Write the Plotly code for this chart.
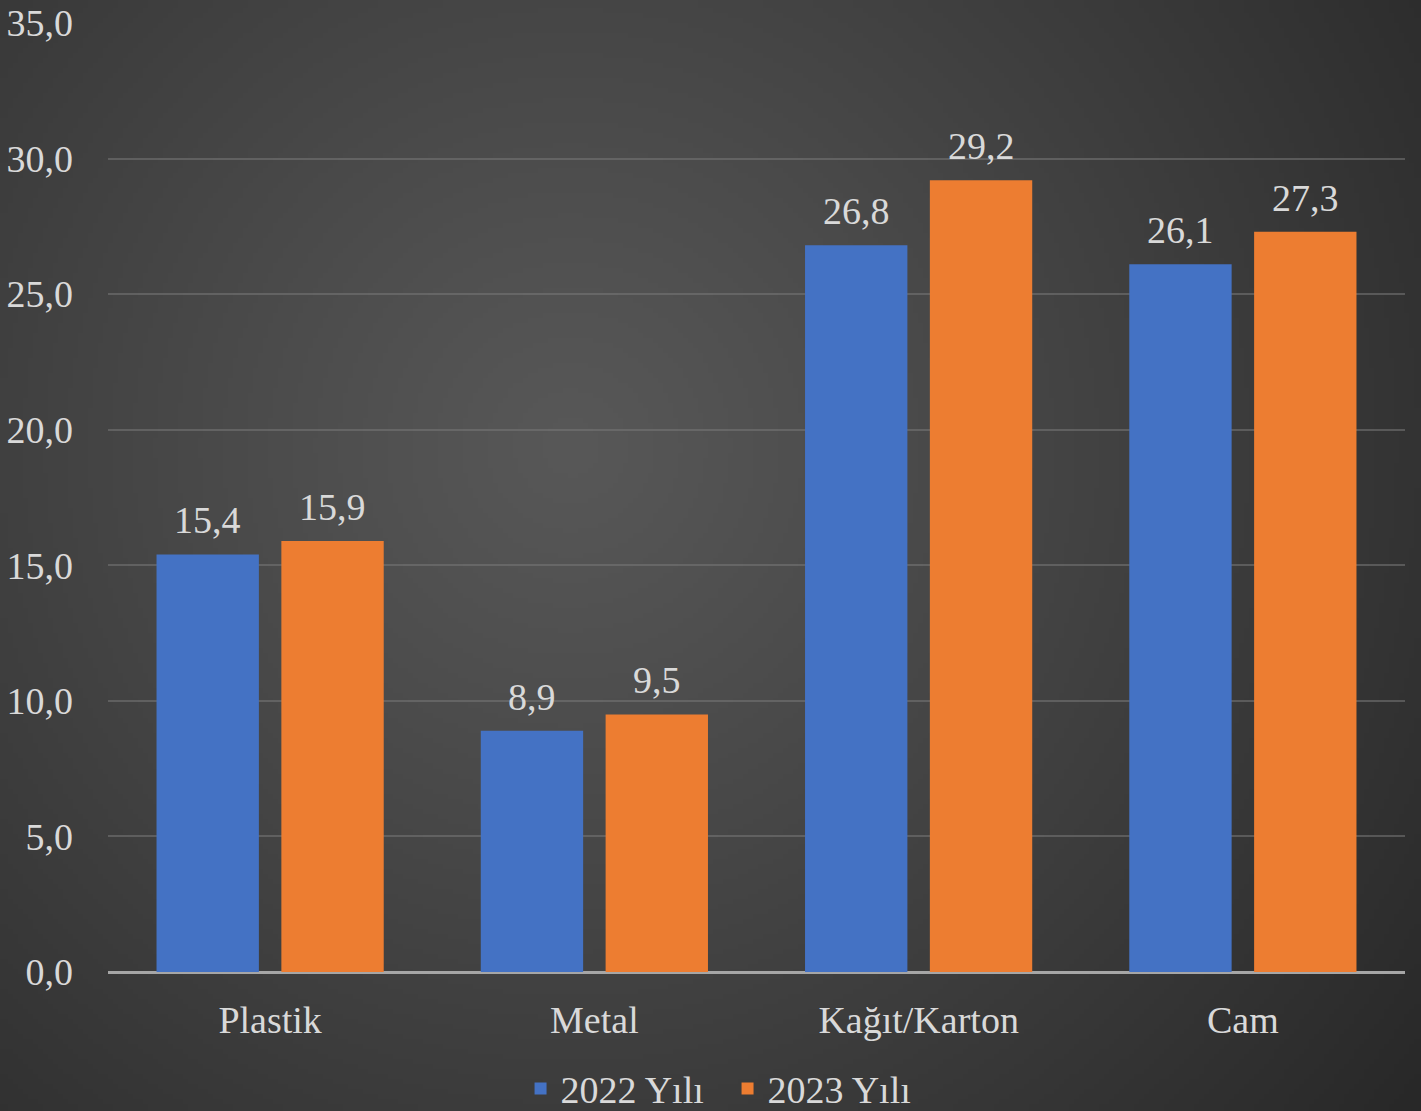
import base64, struct, zlib
import numpy as np
import plotly.graph_objects as go

categories = ["Plastik", "Metal", "Kağıt/Karton", "Cam"]
values_2022 = [15.4, 8.9, 26.8, 26.1]
values_2023 = [15.9, 9.5, 29.2, 27.3]
series_names = ["2022 Yılı", "2023 Yılı"]
y_ticks = [0, 5, 10, 15, 20, 25, 30, 35]
y_tick_labels = ["0,0", "5,0", "10,0", "15,0", "20,0", "25,0", "30,0", "35,0"]

W, H = 1421, 1111
ML, MR, MT, MB = 108, 16, 23, 139
PW, PH = W - ML - MR, H - MT - MB

# radial gradient background as PNG data URI
def png_uri(arr):
    h, w, _ = arr.shape
    raw = b"".join(b"\x00" + arr[i].tobytes() for i in range(h))
    def chunk(t, d):
        c = struct.pack(">I", len(d)) + t + d
        return c + struct.pack(">I", zlib.crc32(t + d) & 0xffffffff)
    png = b"\x89PNG\r\n\x1a\n" + chunk(b"IHDR", struct.pack(">IIBBBBB", w, h, 8, 2, 0, 0, 0)) \
        + chunk(b"IDAT", zlib.compress(raw, 9)) + chunk(b"IEND", b"")
    return "data:image/png;base64," + base64.b64encode(png).decode()

gw, gh = 284, 222
yy, xx = np.mgrid[0:gh, 0:gw]
cx, cy = 0.40 * gw, 0.40 * gh
d = np.sqrt(((xx - cx) / gw) ** 2 + ((yy - cy) / gh * (H / W)) ** 2)
d = d / d.max()
inner, outer = 88, 40
v = (inner + (outer - inner) * np.clip(d, 0, 1) ** 1.1).astype(np.uint8)
img = np.stack([v, v, v], axis=-1)
bg = png_uri(img)

font_family = "Liberation Serif, DejaVu Serif, serif"
txt_color = "#d9d9d9"
FS = 38

BARGAP, GROUPGAP = 0.23, 0.18
slot_px = PW / len(categories) * (1 - BARGAP) / 2
offsets = [-slot_px / 2, slot_px / 2]

fig = go.Figure()
colors = ["#4472C4", "#ED7D31"]
for name, vals, col, off in zip(series_names, [values_2022, values_2023], colors, offsets):
    fig.add_trace(go.Bar(
        x=categories, y=vals, name=name,
        marker=dict(color=col, line=dict(width=0)),
    ))
    for c, v in zip(categories, vals):
        fig.add_annotation(x=c, y=v, text=f"{v:.1f}".replace(".", ","),
                           showarrow=False, xshift=off, yshift=11,
                           yanchor="bottom", xanchor="center",
                           font=dict(family=font_family, size=FS, color=txt_color))

fig.update_layout(
    width=W, height=H,
    margin=dict(l=ML, r=MR, t=MT, b=MB, autoexpand=False),
    paper_bgcolor="#3a3a3a", plot_bgcolor="rgba(0,0,0,0)",
    barmode="group", bargap=BARGAP, bargroupgap=GROUPGAP,
    font=dict(family=font_family, size=FS, color=txt_color),
    showlegend=True,
    legend=dict(orientation="h", xref="container", yref="container",
                x=0.512, xanchor="center", y=0.02, yanchor="middle",
                font=dict(size=FS, color=txt_color), bgcolor="rgba(0,0,0,0)",
                itemwidth=30, tracegroupgap=0,
                entrywidth=162, entrywidthmode="pixels"),
    images=[dict(source=bg, xref="paper", yref="paper",
                 x=-ML / PW, y=1 + MT / PH, sizex=W / PW, sizey=H / PH,
                 xanchor="left", yanchor="top", sizing="stretch", layer="below")],
)
fig.update_xaxes(showgrid=False, showline=False, ticks="", zeroline=False, automargin=False,
                 tickfont=dict(size=FS, color=txt_color), ticklabelstandoff=22)
fig.update_yaxes(range=[0, 35], tickvals=y_ticks, ticktext=y_tick_labels, automargin=False,
                 showgrid=True, gridcolor="rgba(120,120,120,0.55)", gridwidth=1.5,
                 zeroline=True, zerolinecolor="#a6a6a6", zerolinewidth=2.5,
                 showline=False, ticks="", tickfont=dict(size=FS, color=txt_color),
                 ticklabelstandoff=34)

fig.write_html("out.html", config={"displayModeBar": False},
               post_script="document.body.style.margin='0';document.body.style.overflow='hidden';")
